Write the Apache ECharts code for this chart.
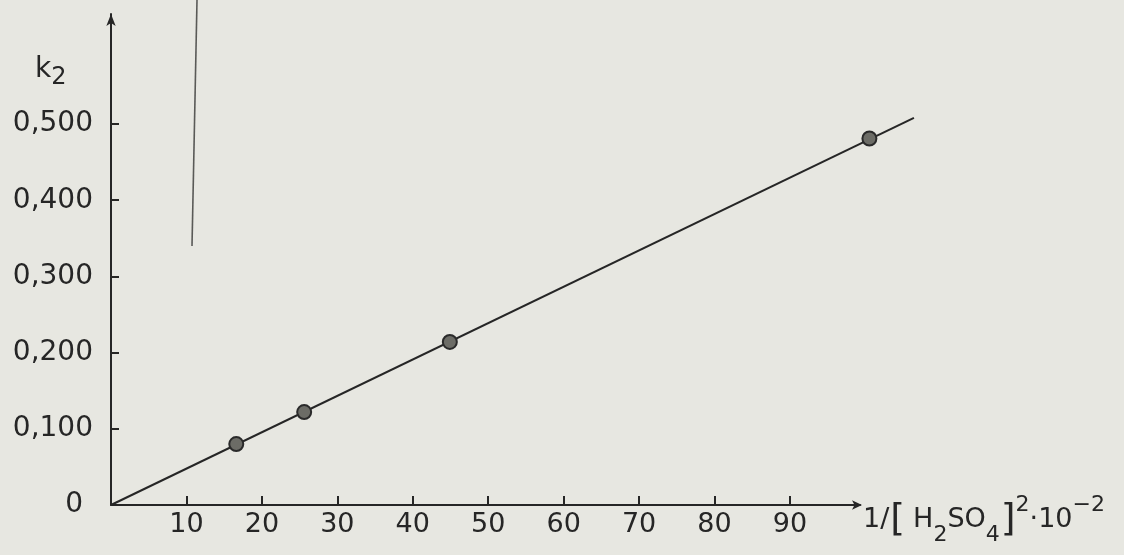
<!DOCTYPE html>
<html>
<head>
<meta charset="utf-8">
<title>k2 vs 1/[H2SO4]^2</title>
<script src="https://cdn.jsdelivr.net/npm/echarts@6/dist/echarts.min.js"></script>
<style>
  html, body { margin: 0; padding: 0; background: #e7e7e1; }
  #chart { width: 1124px; height: 555px; }
</style>
</head>
<body>
<div id="chart"></div>
<script>
// Measured rate constants k2 against 1/[H2SO4]^2 (x10^-2)
const xValues = [16.6, 25.6, 44.9, 100.5];
const k2Values = [0.080, 0.122, 0.214, 0.481];

// Straight line through the origin fitted to the points
const fitX = [0, 106.4];
const fitK2 = [0, 0.508];

// Tick marks and labels
const xTicks = [10, 20, 30, 40, 50, 60, 70, 80, 90];
const yTicks = [0.1, 0.2, 0.3, 0.4, 0.5];
const yLabels = [0, 0.1, 0.2, 0.3, 0.4, 0.5];

const ink = '#262626';
const font = 'DejaVu Sans';

const points = xValues.map((x, i) => [x, k2Values[i]]);
const fitLine = fitX.map((x, i) => [x, fitK2[i]]);

// Both grids share one scale (px per unit); the drawn axes stop at the
// arrow heads while the plotted marks run a little past them.
const PX_PER_X = 7.544;
const X_AXIS_END = 99.28;
const X_PLOT_END = 108;
const Y_END = 0.6444;
const LEFT = 111;
const plotRight = 1124 - LEFT - Math.round(X_PLOT_END * PX_PER_X);
const axisRight = 1124 - LEFT - Math.round(X_AXIS_END * PX_PER_X);

const chart = echarts.init(document.getElementById('chart'), null, { renderer: 'canvas' });

chart.setOption({
  backgroundColor: '#e7e7e1',
  animation: false,
  grid: [
    { left: LEFT, right: axisRight, top: 14, bottom: 50, containLabel: false, outerBoundsMode: 'none' },
    { left: LEFT, right: plotRight, top: 14, bottom: 50, containLabel: false, outerBoundsMode: 'none' }
  ],
  xAxis: [
    {
      gridIndex: 0,
      type: 'value',
      min: 0,
      max: X_AXIS_END,
      splitLine: { show: false },
      axisLine: {
        show: true,
        lineStyle: { color: ink, width: 2 },
        symbol: ['none', 'arrow'],
        symbolSize: [7, 10],
        symbolOffset: [0, 2]
      },
      axisTick: {
        show: true,
        inside: true,
        length: 9,
        customValues: xTicks,
        lineStyle: { color: ink, width: 2 }
      },
      axisLabel: {
        show: true,
        customValues: xTicks,
        margin: 6,
        color: ink,
        fontFamily: font,
        fontSize: 27
      },
      name: '{n|1/}{bl|[}{n|H}{s|2}{n|SO}{s|4}{br|]}{p|2}{n|·10}{p|−2}',
      nameLocation: 'end',
      nameGap: 3,
      nameTextStyle: {
        color: ink,
        fontFamily: font,
        align: 'left',
        verticalAlign: 'middle',
        padding: [30, 0, 0, 0],
        rich: {
          n: { fontFamily: font, fontSize: 27, lineHeight: 52, color: ink },
          bl: { fontFamily: font, fontSize: 38, lineHeight: 52, color: ink, padding: [0, 8, 0, 1] },
          br: { fontFamily: font, fontSize: 38, lineHeight: 52, color: ink, padding: [0, 0, 0, 1] },
          s: { fontFamily: font, fontSize: 22, lineHeight: 22, verticalAlign: 'bottom', color: ink },
          p: { fontFamily: font, fontSize: 22, lineHeight: 22, verticalAlign: 'top', color: ink }
        }
      }
    },
    {
      gridIndex: 1,
      type: 'value',
      min: 0,
      max: X_PLOT_END,
      show: false
    }
  ],
  yAxis: [
    {
      gridIndex: 0,
      type: 'value',
      min: 0,
      max: Y_END,
      splitLine: { show: false },
      axisLine: {
        show: true,
        lineStyle: { color: ink, width: 2 },
        symbol: ['none', 'arrow'],
        symbolSize: [7, 12]
      },
      axisTick: {
        show: true,
        inside: true,
        length: 8,
        customValues: yTicks,
        lineStyle: { color: ink, width: 2 }
      },
      axisLabel: {
        show: true,
        customValues: yLabels,
        margin: 18,
        color: ink,
        fontFamily: font,
        fontSize: 28,
        formatter: v => v === 0 ? '{z|0}' : v.toFixed(3).replace('.', ','),
        rich: {
          z: { fontFamily: font, fontSize: 28, color: ink, padding: [0, 10, 0, 0] }
        }
      }
    },
    {
      gridIndex: 1,
      type: 'value',
      min: 0,
      max: Y_END,
      show: false
    }
  ],
  graphic: [
    {
      type: 'text',
      left: 35,
      top: 56,
      style: {
        text: '{k|k}{s|2}',
        rich: {
          k: { fontFamily: font, fontSize: 28, lineHeight: 40, fill: ink },
          s: { fontFamily: font, fontSize: 24, lineHeight: 22, verticalAlign: 'bottom', fill: ink }
        }
      }
    },
    {
      // thin ruled stroke near the top left
      type: 'line',
      shape: { x1: 197, y1: 0, x2: 192, y2: 246 },
      style: { stroke: '#4a4a48', lineWidth: 1.6, opacity: 0.9 }
    }
  ],
  series: [
    {
      name: 'fit',
      type: 'line',
      xAxisIndex: 1,
      yAxisIndex: 1,
      data: fitLine,
      showSymbol: false,
      symbol: 'none',
      lineStyle: { color: ink, width: 2 },
      silent: true,
      z: 2
    },
    {
      name: 'k2',
      type: 'scatter',
      xAxisIndex: 1,
      yAxisIndex: 1,
      data: points,
      symbol: 'circle',
      symbolSize: 14,
      itemStyle: { color: '#6c6c66', borderColor: '#2a2a2a', borderWidth: 2, opacity: 1 },
      z: 3
    }
  ]
});
</script>
</body>
</html>
